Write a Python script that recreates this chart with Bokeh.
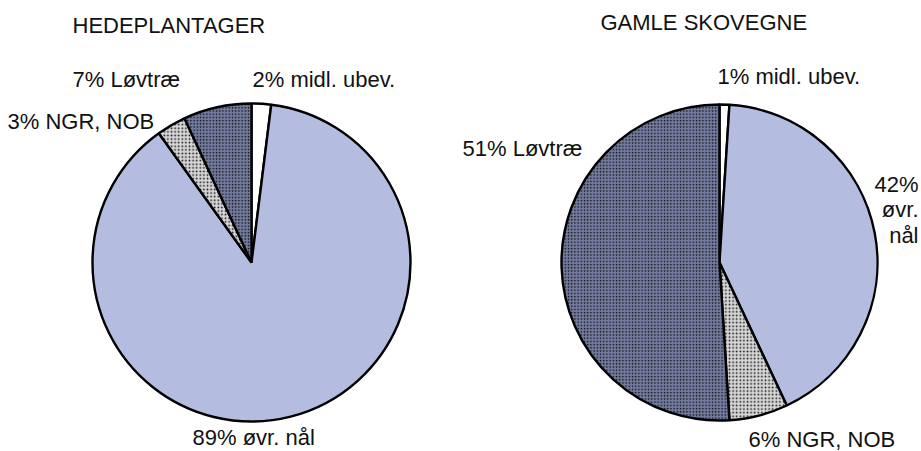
import numpy as np
from bokeh.plotting import figure
from bokeh.models import Range1d, ColumnDataSource
from bokeh.embed import file_html
from bokeh.resources import INLINE
from bokeh.core.properties import value

# ---- data ----
categories = ["midl. ubev.", "øvr. nål", "NGR, NOB", "Løvtræ"]
hede_values = [2, 89, 3, 7]
gamle_values = [1, 42, 6, 51]
titles = ["HEDEPLANTAGER", "GAMLE SKOVEGNE"]

# ---- styles ----
fills = ["#ffffff", "#b4bddf", "#d6d6d6", "#727a9e"]
hatches = [" ", " ", "dot", "dot"]
hatch_scales = [6, 6, 3.6, 3.2]
hatch_weights = [1, 1, 2.2, 2.8]

W, H = 921, 451
p = figure(width=W, height=H, output_backend="svg", toolbar_location=None,
           x_range=Range1d(0, W), y_range=Range1d(0, H), min_border=0)
p.axis.visible = False
p.grid.visible = False
p.outline_line_color = None
p.background_fill_color = "white"


def pie(vals, cx, cy, r):
    v = np.array(vals, dtype=float)
    frac = v / v.sum()
    ends_cw = np.cumsum(frac) * 2 * np.pi
    starts_cw = ends_cw - frac * 2 * np.pi
    src = ColumnDataSource(dict(
        start=np.pi / 2 - ends_cw, end=np.pi / 2 - starts_cw,
        fill=fills, hatch=hatches, hs=hatch_scales, hw=hatch_weights,
        x=[cx] * 4, y=[cy] * 4))
    p.wedge(x="x", y="y", radius=r, start_angle="start", end_angle="end",
            fill_color="fill", hatch_pattern="hatch", hatch_scale="hs",
            hatch_weight="hw", hatch_color="#111111",
            line_color="black", line_width=2.4, source=src)


def py(Y):
    return H - Y


pie(hede_values, 251, py(262), 159)
pie(gamle_values, 719, py(262), 158)


def txt(x, Y, s, align="left"):
    p.text(x=[x], y=[py(Y)], text=[s], text_align=align,
           text_baseline="middle", text_font=value("Liberation Sans"),
           text_font_size="22px", text_color="#111111")


txt(72, 25, titles[0])
txt(600, 22, titles[1])

txt(72, 79, f"{hede_values[3]}% {categories[3]}")
txt(252, 79, f"{hede_values[0]}% {categories[0]}")
txt(7, 121, f"{hede_values[2]}% {categories[2]}")
txt(192, 437, f"{hede_values[1]}% {categories[1]}")

txt(717, 76, f"{gamle_values[0]}% {categories[0]}")
txt(462, 148, f"{gamle_values[3]}% {categories[3]}")
txt(918, 184, f"{gamle_values[1]}%", "right")
txt(918, 209, "øvr.", "right")
txt(918, 235, "nål", "right")
txt(748, 439, f"{gamle_values[2]}% {categories[2]}")

open("out.html", "w").write(file_html(p, INLINE))
